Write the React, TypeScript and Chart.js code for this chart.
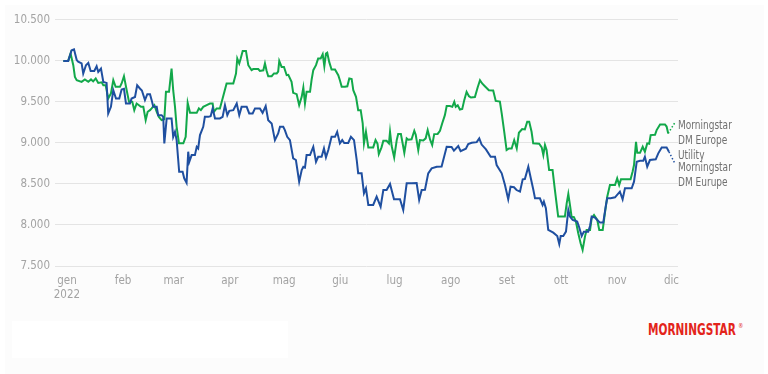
import React, { useEffect, useRef } from "react";
import { Chart, registerables } from "chart.js";

Chart.register(...registerables);

// Month tick positions (days from 1 Jan 2022) and labels
const monthStartDays = [0, 31, 59, 90, 120, 151, 181, 212, 243, 273, 304, 334];
const monthLabels = ["gen", "feb", "mar", "apr", "mag", "giu", "lug", "ago", "set", "ott", "nov", "dic"];
const yearLabel = "2022";
const yTicks = [7500, 8000, 8500, 9000, 9500, 10000, 10500];

const utilityLabel = ["Morningstar", "DM Europe", "Utility"];
const europeLabel = ["Morningstar", "DM Eurupe"];

// Morningstar DM Europe (blue): days from 1 Jan 2022, growth of 10.000
const europeDays = [-2, 0.7, 2.6, 3.9, 5.4, 6.2, 8.1, 9.0, 10.5, 11.8, 13.1, 15.1, 16.4, 17.3, 18.8, 20.1, 21.9, 22.8, 24.3, 25.6, 27.1, 28.9, 30.2, 31.5, 32.6, 34.8, 35.7, 37.6, 38.8, 40.3, 41.4, 43.1, 44.4, 45.9, 46.8, 47.7, 49.6, 50.4, 52.3, 53.2, 53.8, 55.1, 57.8, 58.7, 59.7, 60.6, 62.0, 63.9, 64.8, 66.1, 67.0, 67.6, 68.9, 70.7, 71.7, 72.5, 73.5, 75.3, 76.2, 78.1, 79.4, 80.5, 81.8, 84.5, 86.0, 87.3, 88.6, 89.7, 91.9, 93.8, 95.2, 96.5, 99.3, 100.7, 102.6, 103.9, 106.6, 108.1, 109.8, 111.2, 113.1, 114.9, 116.7, 117.7, 119.5, 120.4, 121.7, 123.2, 125.0, 126.5, 128.3, 129.7, 130.6, 131.5, 132.4, 134.3, 136.1, 137.6, 138.8, 140.7, 142.0, 143.1, 144.4, 146.2, 148.1, 149.3, 150.8, 152.1, 153.2, 155.4, 156.9, 158.6, 160.1, 160.9, 162.8, 164.1, 165.2, 166.5, 169.2, 171.1, 173.3, 174.8, 176.6, 178.5, 180.7, 184.0, 185.8, 187.7, 190.4, 193.2, 194.6, 196.0, 197.8, 199.6, 201.5, 204.3, 207.0, 209.8, 212.5, 213.8, 216.2, 217.5, 220.4, 221.7, 223.6, 226.4, 227.8, 229.1, 231.5, 234.1, 236.5, 237.4, 240.2, 242.0, 243.8, 245.1, 247.0, 248.4, 250.3, 251.8, 253.0, 254.9, 256.4, 257.7, 258.6, 261.3, 262.8, 263.5, 264.6, 265.9, 268.7, 270.9, 272.0, 272.8, 274.2, 275.7, 277.0, 277.9, 279.4, 281.9, 283.0, 284.4, 285.6, 288.0, 289.0, 289.9, 291.7, 293.0, 294.5, 296.3, 297.8, 298.5, 300.4, 302.8, 305.5, 307.0, 308.3, 312.0, 313.3, 314.8, 316.6, 318.4, 319.3, 320.6, 322.1, 325.3, 326.7, 328.6, 331.3, 332.6];
const europeValues = [10000, 10000, 10130, 10142, 10010, 9990, 9970, 9847, 9948, 9976, 9878, 9878, 9935, 9866, 9907, 9744, 9732, 9360, 9440, 9643, 9542, 9542, 9652, 9660, 9481, 9481, 9542, 9560, 9704, 9664, 9640, 9522, 9595, 9595, 9522, 9440, 9440, 9339, 9339, 9318, 8995, 9299, 9299, 9075, 9136, 9035, 8649, 8649, 8569, 8515, 8893, 8771, 8852, 8852, 8953, 8933, 9096, 9197, 9318, 9318, 9327, 9421, 9299, 9299, 9318, 9461, 9339, 9392, 9400, 9481, 9339, 9440, 9440, 9360, 9360, 9421, 9421, 9367, 9449, 9278, 9238, 9035, 9116, 9197, 9197, 9157, 9075, 9035, 8812, 8792, 8528, 8670, 8710, 8700, 8852, 8852, 8953, 8771, 8832, 8832, 8933, 8824, 8913, 9075, 9075, 9136, 8995, 9035, 9000, 9000, 9075, 9035, 8792, 8630, 8630, 8386, 8447, 8244, 8244, 8345, 8223, 8426, 8426, 8500, 8313, 8313, 8183, 8508, 8508, 8510, 8305, 8426, 8430, 8630, 8690, 8710, 8712, 8953, 8950, 8905, 8962, 8900, 8930, 8986, 9002, 9010, 9056, 8980, 8921, 8832, 8832, 8731, 8630, 8487, 8313, 8467, 8460, 8426, 8406, 8557, 8560, 8710, 8557, 8426, 8325, 8325, 8244, 8284, 8204, 7940, 7907, 7866, 7769, 7866, 7866, 7919, 8183, 8102, 8061, 8041, 7972, 7866, 7919, 7919, 7988, 8102, 8090, 8061, 8029, 8029, 8244, 8325, 8325, 8337, 8406, 8313, 8447, 8447, 8528, 8771, 8783, 8783, 8832, 8710, 8792, 8800, 8873, 8946, 8946, 8893];

// Morningstar DM Europe Utility (green)
const utilityDays = [-2, 0.7, 2.0, 3.5, 4.4, 5.4, 8.1, 9.9, 11.8, 13.3, 14.5, 15.9, 17.3, 19.2, 20.1, 21.4, 22.8, 24.3, 25.6, 26.9, 29.3, 30.2, 31.5, 33.0, 34.3, 36.1, 37.2, 38.5, 39.8, 40.9, 42.2, 43.5, 44.6, 45.9, 46.8, 48.3, 49.6, 50.8, 52.3, 53.8, 54.7, 56.4, 57.8, 58.7, 59.7, 60.6, 61.9, 64.3, 65.6, 66.7, 68.0, 71.7, 72.9, 74.0, 75.3, 77.2, 79.0, 80.5, 81.2, 82.7, 84.5, 86.0, 88.2, 89.7, 91.9, 93.4, 94.1, 95.2, 96.0, 97.1, 98.9, 100.2, 102.0, 102.9, 105.7, 106.6, 108.5, 109.4, 110.3, 111.2, 113.1, 114.4, 115.9, 116.7, 117.3, 118.6, 119.9, 121.4, 122.3, 124.1, 125.0, 126.9, 128.3, 129.7, 130.6, 131.5, 132.4, 134.3, 135.2, 136.1, 137.6, 138.8, 140.2, 141.3, 142.2, 143.1, 143.8, 144.9, 146.2, 148.1, 149.9, 150.8, 151.8, 153.6, 154.9, 156.0, 157.3, 158.2, 159.7, 160.9, 162.3, 163.4, 164.1, 165.2, 166.5, 169.2, 170.5, 171.6, 172.3, 173.8, 174.8, 176.6, 177.9, 178.5, 179.4, 180.8, 182.2, 183.0, 184.5, 185.3, 186.4, 187.7, 188.6, 190.4, 191.9, 192.7, 194.1, 195.0, 196.9, 198.2, 199.3, 200.6, 201.8, 202.9, 204.8, 206.1, 207.3, 208.8, 209.8, 211.6, 212.9, 214.0, 214.8, 215.9, 217.1, 218.4, 219.5, 220.8, 222.1, 223.2, 225.4, 226.9, 228.2, 229.4, 230.9, 233.1, 235.5, 236.9, 239.2, 240.2, 241.6, 242.9, 244.2, 245.7, 247.1, 248.5, 249.7, 251.5, 253.0, 254.3, 255.4, 256.7, 257.6, 260.9, 262.3, 263.2, 264.1, 265.0, 266.4, 268.3, 269.6, 270.5, 271.4, 275.1, 276.1, 277.0, 277.9, 278.8, 280.1, 281.2, 282.5, 283.8, 284.9, 286.2, 287.1, 289.0, 289.9, 291.2, 293.0, 294.1, 296.0, 297.2, 298.5, 300.0, 302.8, 304.0, 305.1, 306.1, 311.4, 312.5, 313.3, 314.4, 315.1, 316.6, 318.1, 319.3, 320.6, 321.7, 322.5, 324.9, 325.8, 327.7, 330.4, 331.3, 332.2];
const utilityValues = [10000, 10000, 10090, 9948, 9805, 9765, 9745, 9774, 9745, 9774, 9750, 9786, 9732, 9740, 9704, 9704, 9542, 9603, 9765, 9684, 9684, 9725, 9814, 9643, 9501, 9501, 9400, 9481, 9460, 9440, 9440, 9278, 9380, 9400, 9421, 9461, 9380, 9318, 9278, 9290, 9623, 9623, 9907, 9643, 9440, 9197, 8995, 8995, 9075, 9489, 9367, 9367, 9421, 9400, 9440, 9461, 9481, 9481, 9380, 9421, 9421, 9542, 9725, 9725, 9725, 9847, 10029, 9968, 10029, 10122, 10122, 9948, 9887, 9900, 9900, 9878, 9885, 9968, 9880, 9814, 9814, 9847, 9847, 9870, 10000, 9927, 9927, 9826, 9830, 9745, 9611, 9595, 9461, 9562, 9676, 9481, 9623, 9623, 9774, 9887, 9948, 10029, 10030, 10082, 9935, 10090, 10100, 9988, 9895, 9895, 9826, 9765, 9684, 9684, 9690, 9786, 9780, 9643, 9562, 9400, 9400, 9238, 8995, 9136, 8946, 8946, 9035, 8990, 8865, 8946, 9027, 9027, 8995, 9136, 8962, 8824, 9035, 9108, 9108, 9014, 8880, 9056, 9040, 9045, 9148, 9100, 8913, 9035, 9030, 9056, 9157, 9043, 8974, 9108, 9110, 9148, 9238, 9339, 9449, 9449, 9440, 9501, 9440, 9460, 9408, 9415, 9522, 9623, 9570, 9554, 9560, 9676, 9765, 9725, 9692, 9643, 9640, 9513, 9505, 9360, 9136, 8913, 8933, 8933, 9035, 8933, 9124, 9170, 9165, 9258, 9258, 9136, 8995, 8990, 8946, 8852, 8974, 8913, 8670, 8670, 8426, 8264, 8102, 8102, 8264, 8378, 8244, 8102, 8095, 8041, 7899, 7778, 7696, 7858, 7940, 7940, 8082, 8122, 8061, 7940, 7940, 8143, 8345, 8487, 8487, 8569, 8487, 8557, 8557, 8649, 8731, 9014, 8880, 8880, 8953, 8893, 8995, 8990, 9096, 9100, 9157, 9226, 9226, 9200, 9116];

const GREEN = "#12a84a";
const BLUE = "#1f4fa0";
const FONT = '"Liberation Sans Narrow", "DejaVu Sans Condensed", "Roboto Condensed", Roboto, sans-serif';

const fmt = (v: number) => String(v).replace(/\B(?=(\d{3})+(?!\d))/g, ".");

const endLabels = {
  id: "endLabels",
  afterDatasetsDraw(chart: any) {
    const ctx = chart.ctx;
    const right = chart.chartArea.right;
    const specs = [
      { ds: 1, lines: utilityLabel, color: GREEN, dy: -8 },
      { ds: 0, lines: europeLabel, color: BLUE, dy: 16 },
    ];
    ctx.save();
    for (const s of specs) {
      const meta = chart.getDatasetMeta(s.ds);
      const last = meta.data[meta.data.length - 1];
      const firstY = last.y + s.dy;
      ctx.strokeStyle = s.color;
      ctx.lineWidth = 1.5;
      ctx.setLineDash([1.5, 2]);
      ctx.beginPath();
      ctx.moveTo(last.x, last.y);
      ctx.lineTo(right - 3, firstY + (s.dy < 0 ? -3 : -4));
      ctx.stroke();
      ctx.setLineDash([]);
      ctx.fillStyle = "#707070";
      ctx.font = `12.5px ${FONT}`;
      ctx.textBaseline = "middle";
      ctx.textAlign = "left";
      s.lines.forEach((t: string, i: number) => {
        ctx.save();
        ctx.translate(right, firstY + i * 15);
        ctx.scale(0.8, 1);
        ctx.fillText(t, 0, 0);
        ctx.restore();
      });
    }
    ctx.restore();
  },
};

export default function App() {
  const ref = useRef<HTMLCanvasElement | null>(null);
  useEffect(() => {
    if (!ref.current) return;
    const chart = new Chart(ref.current, {
      type: "line",
      data: {
        datasets: [
          {
            label: europeLabel.join(" "),
            data: europeDays.map((d, i) => ({ x: d, y: europeValues[i] })),
            borderColor: BLUE,
            borderWidth: 2,
            pointRadius: 0,
            tension: 0,
            fill: false,
          },
          {
            label: utilityLabel.join(" "),
            data: utilityDays.map((d, i) => ({ x: d, y: utilityValues[i] })),
            borderColor: GREEN,
            borderWidth: 2,
            pointRadius: 0,
            tension: 0,
            fill: false,
          },
        ],
      },
      options: {
        animation: false,
        responsive: true,
        maintainAspectRatio: false,
        layout: { padding: { top: 11, right: 82, left: 0, bottom: 0 } },
        plugins: { legend: { display: false }, tooltip: { enabled: false } },
        scales: {
          x: {
            type: "linear",
            min: -6.6,
            max: 337.6,
            grid: { display: false, drawTicks: false },
            border: { display: false },
            afterBuildTicks: (scale: any) => {
              scale.ticks = monthStartDays.map((v) => ({ value: v }));
            },
            afterFit: (scale: any) => {
              scale.height = 42;
            },
            ticks: {
              autoSkip: false,
              maxRotation: 0,
              padding: 8,
              color: "#a3a3a3",
              font: { family: FONT, size: 11.5 },
              callback: (value: any) => {
                const i = monthStartDays.indexOf(Number(value));
                if (i < 0) return "";
                return i === 0 ? [monthLabels[i], yearLabel] : monthLabels[i];
              },
            },
          },
          y: {
            min: yTicks[0],
            max: yTicks[yTicks.length - 1],
            grid: { color: "#e4e4e4", lineWidth: 1, drawTicks: false },
            border: { display: false },
            afterBuildTicks: (scale: any) => {
              scale.ticks = yTicks.map((v) => ({ value: v }));
            },
            afterFit: (scale: any) => {
              scale.width = 47;
            },
            ticks: {
              padding: 5,
              color: "#a3a3a3",
              font: { family: FONT, size: 11.5 },
              callback: (value: any) => fmt(Number(value)),
            },
          },
        },
      },
      plugins: [endLabels],
    });
    return () => chart.destroy();
  }, []);

  return (
    <div style={{ position: "absolute", left: 0, top: 0, width: 768, height: 374, background: "#ffffff" }}>
      <div style={{ position: "absolute", left: 5, top: 5, width: 759, height: 369, background: "#fcfcfc" }} />
      <div style={{ position: "absolute", left: 12, top: 321, width: 276, height: 37, background: "#ffffff" }} />
      <div style={{ position: "absolute", left: 8, top: 8, width: 752, height: 300 }}>
        <canvas ref={ref} />
      </div>
      <div
        style={{
          position: "absolute",
          left: 648,
          top: 321,
          fontFamily: FONT,
          fontWeight: 700,
          fontSize: 15,
          lineHeight: "18px",
          color: "#e3241b",
          whiteSpace: "nowrap",
          transform: "scaleX(0.78)",
          transformOrigin: "left top",
        }}
      >
        MORNINGSTAR
        <sup style={{ fontSize: 7, fontWeight: 400, marginLeft: 3, verticalAlign: "top", lineHeight: "10px" }}>®</sup>
      </div>
    </div>
  );
}
